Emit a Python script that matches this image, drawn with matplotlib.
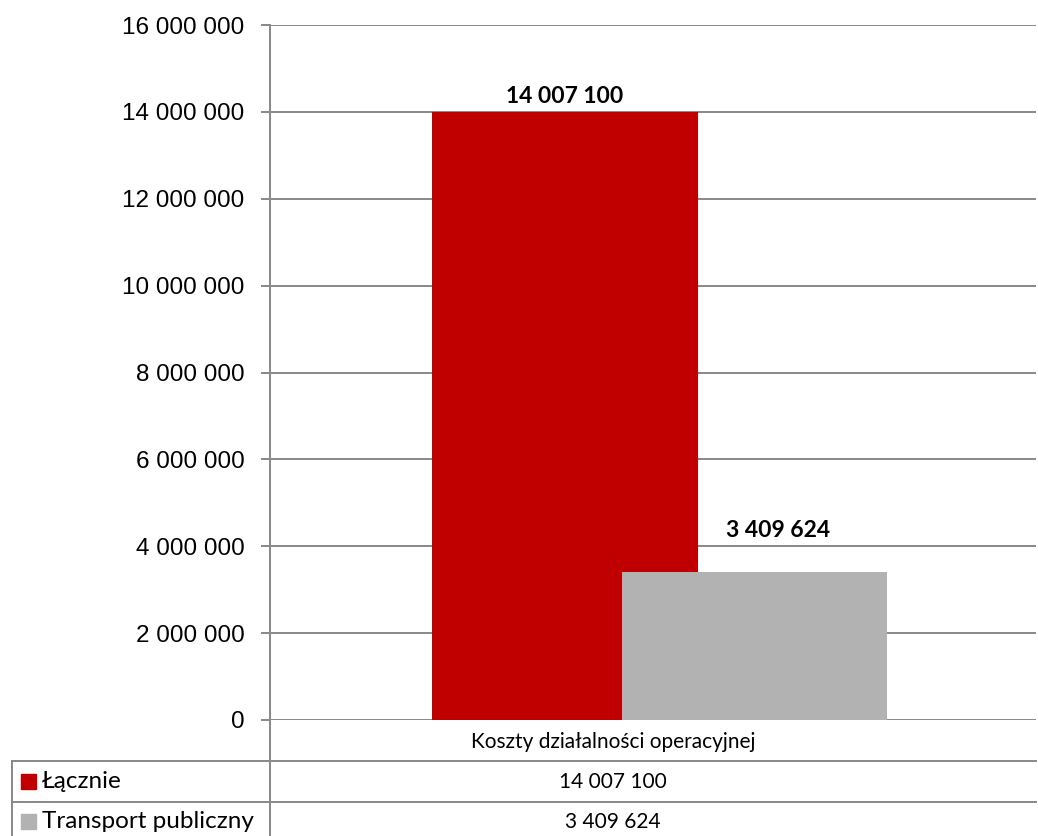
import matplotlib
matplotlib.use("Agg")
import matplotlib.pyplot as plt
from matplotlib.lines import Line2D
from matplotlib.patches import Rectangle

category = "Koszty działalności operacyjnej"
series_names = ["Łącznie", "Transport publiczny"]
series_values = [14007100, 3409624]
series_colors = ["#C00000", "#B2B2B2"]
y_ticks = [0, 2000000, 4000000, 6000000, 8000000, 10000000, 12000000, 14000000, 16000000]

GRID = "#888888"
W, H = 1038, 836


def fmt(v):
    return f"{v:,}".replace(",", " ")


def fx(px):
    return px / W


def fy(py):
    return 1 - py / H


fig = plt.figure(figsize=(W / 100, H / 100), dpi=100)
ax = fig.add_axes([fx(270), fy(720), fx(1036) - fx(270), fy(25) - fy(720)])

# overlapping bars, second series drawn in front
centers = [0.385, 0.6325]
bar_w = 0.347
label_offsets = [(0, 3), (17, 22)]  # points, value labels above the bars
for c, v, col, off in zip(centers, series_values, series_colors, label_offsets):
    ax.bar(c, v, width=bar_w, color=col, zorder=3)
    ax.annotate(fmt(v), (c, v), xytext=off, textcoords="offset points",
                ha="center", va="bottom", fontsize=16.5, fontweight="bold",
                family="Lato", zorder=4)

ax.set_xlim(0, 1)
ax.set_ylim(0, 16000000)
ax.set_yticks(y_ticks)
ax.set_yticklabels([fmt(t) for t in y_ticks], fontsize=17.5, family="Liberation Sans")
ax.set_xticks([])
ax.yaxis.grid(True, color=GRID, linewidth=1.4, zorder=1)
for s in ["top", "right", "bottom"]:
    ax.spines[s].set_visible(False)
ax.spines["left"].set_color(GRID)
ax.spines["left"].set_linewidth(1.4)
ax.tick_params(axis="y", length=6.5, width=1.4, color=GRID, pad=12)

# data table below the plot
def hline(y, x0, x1):
    fig.add_artist(Line2D([fx(x0), fx(x1)], [fy(y), fy(y)], color=GRID, linewidth=1.4))


def vline(x, y0, y1):
    fig.add_artist(Line2D([fx(x), fx(x)], [fy(y0), fy(y1)], color=GRID, linewidth=1.4))


hline(761, 12, 1036)
hline(802, 12, 1036)
vline(12, 761, 836)
vline(269.5, 720, 836)

mid = 613
fig.text(fx(mid), fy(742), category, ha="center", va="center", fontsize=15, family="Lato")
row_y = [782, 822]
for ry, name, v, col in zip(row_y, series_names, series_values, series_colors):
    fig.add_artist(Rectangle((fx(21), fy(ry + 7)), fx(15), fy(ry - 8) - fy(ry + 7),
                             transform=fig.transFigure, color=col))
    fig.text(fx(42), fy(ry), name, ha="left", va="center", fontsize=17.5, family="Lato")
    fig.text(fx(mid), fy(ry), fmt(v), ha="center", va="center", fontsize=15, family="Lato")

fig.savefig("out.png", dpi=100, facecolor="white")
